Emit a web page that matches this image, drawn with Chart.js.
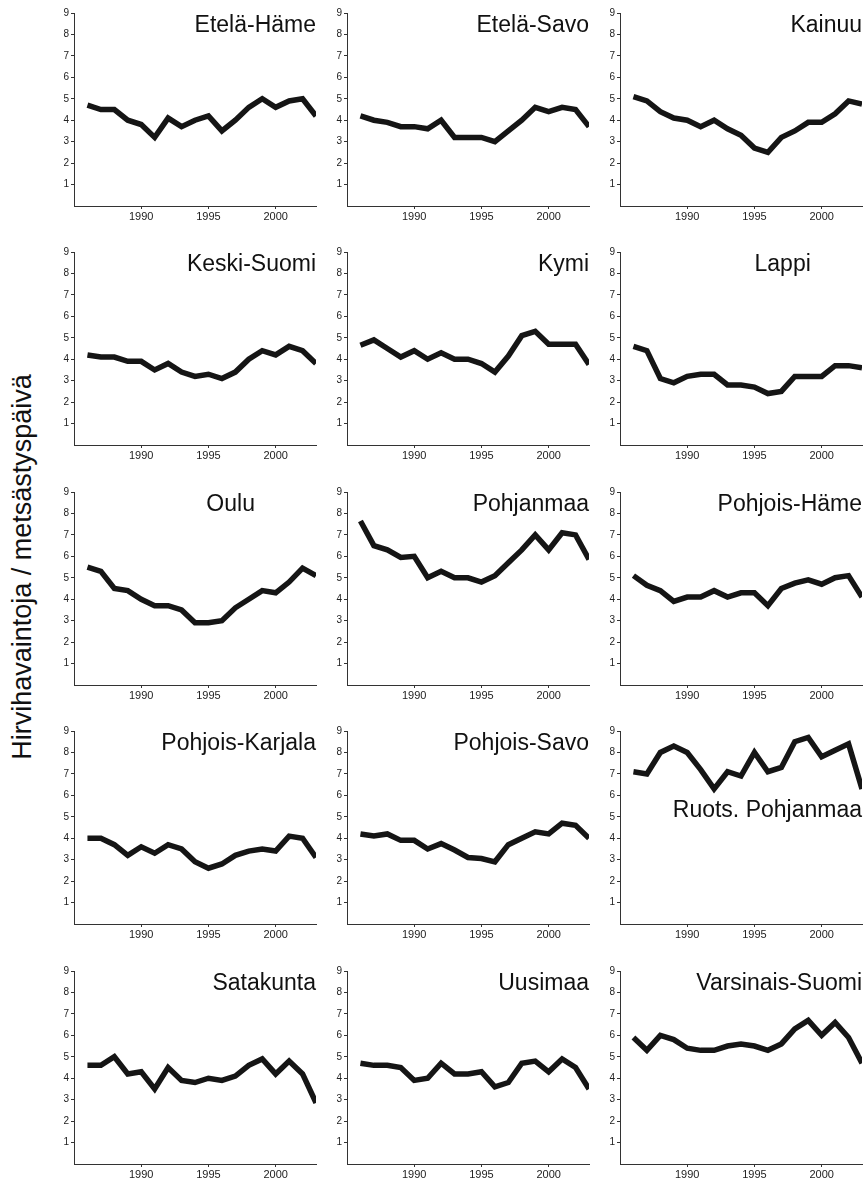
<!DOCTYPE html>
<html>
<head>
<meta charset="utf-8">
<script src="https://cdn.jsdelivr.net/npm/chart.js@4"></script>
<style>
  html, body { margin: 0; padding: 0; background: #fff; }
  #wrap { position: relative; width: 868px; height: 1180px; overflow: hidden; }
  #wrap canvas { position: absolute; }
  #ylab {
    position: absolute; left: 22px; top: 567px;
    transform: translate(-50%, -50%) rotate(-90deg);
    white-space: nowrap;
    font: 27px "Liberation Sans", Arial, sans-serif; color: #111;
  }
</style>
</head>
<body>
<div id="wrap">
  <div id="ylab">Hirvihavaintoja / metsästyspäivä</div>
</div>
<script>
(function() {
    // --- data: hirvihavainnot per metsästyspäivä, 1986-2003 ---
    const YEARS = [1986, 1987, 1988, 1989, 1990, 1991, 1992, 1993, 1994,
                   1995, 1996, 1997, 1998, 1999, 2000, 2001, 2002, 2003];
    const TICK_YEARS = [1990, 1995, 2000];
    const Y_TICKS = [1, 2, 3, 4, 5, 6, 7, 8, 9];

    const REGIONS = ['Etelä-Häme', 'Etelä-Savo', 'Kainuu',
                     'Keski-Suomi', 'Kymi', 'Lappi',
                     'Oulu', 'Pohjanmaa', 'Pohjois-Häme',
                     'Pohjois-Karjala', 'Pohjois-Savo', 'Ruots. Pohjanmaa',
                     'Satakunta', 'Uusimaa', 'Varsinais-Suomi'];

    const ETELA_HAME      = [4.7, 4.5, 4.5, 4.0, 3.8, 3.2, 4.1, 3.7, 4.0, 4.2, 3.5, 4.0, 4.6, 5.0, 4.6, 4.9, 5.0, 4.2];
    const ETELA_SAVO      = [4.2, 4.0, 3.9, 3.7, 3.7, 3.6, 4.0, 3.2, 3.2, 3.2, 3.0, 3.5, 4.0, 4.6, 4.4, 4.6, 4.5, 3.7];
    const KAINUU          = [5.1, 4.9, 4.4, 4.1, 4.0, 3.7, 4.0, 3.6, 3.3, 2.7, 2.5, 3.2, 3.5, 3.9, 3.9, 4.3, 4.9, 4.75];
    const KESKI_SUOMI     = [4.2, 4.1, 4.1, 3.9, 3.9, 3.5, 3.8, 3.4, 3.2, 3.3, 3.1, 3.4, 4.0, 4.4, 4.2, 4.6, 4.4, 3.8];
    const KYMI            = [4.65, 4.9, 4.5, 4.1, 4.4, 4.0, 4.3, 4.0, 4.0, 3.8, 3.4, 4.15, 5.1, 5.3, 4.7, 4.7, 4.7, 3.75];
    const LAPPI           = [4.6, 4.4, 3.1, 2.9, 3.2, 3.3, 3.3, 2.8, 2.8, 2.7, 2.4, 2.5, 3.2, 3.2, 3.2, 3.7, 3.7, 3.6];
    const OULU            = [5.5, 5.3, 4.5, 4.4, 4.0, 3.7, 3.7, 3.5, 2.9, 2.9, 3.0, 3.6, 4.0, 4.4, 4.3, 4.8, 5.45, 5.1];
    const POHJANMAA       = [7.65, 6.5, 6.3, 5.95, 6.0, 5.0, 5.3, 5.0, 5.0, 4.8, 5.1, 5.7, 6.3, 7.0, 6.3, 7.1, 7.0, 5.85];
    const POHJOIS_HAME    = [5.1, 4.65, 4.4, 3.9, 4.1, 4.1, 4.4, 4.1, 4.3, 4.3, 3.7, 4.5, 4.75, 4.9, 4.7, 5.0, 5.1, 4.1];
    const POHJOIS_KARJALA = [4.0, 4.0, 3.7, 3.2, 3.6, 3.3, 3.7, 3.5, 2.9, 2.6, 2.8, 3.2, 3.4, 3.5, 3.4, 4.1, 4.0, 3.1];
    const POHJOIS_SAVO    = [4.2, 4.1, 4.2, 3.9, 3.9, 3.5, 3.75, 3.45, 3.1, 3.05, 2.9, 3.7, 4.0, 4.3, 4.2, 4.7, 4.6, 4.0];
    const RUOTS_POHJANMAA = [7.1, 7.0, 8.0, 8.3, 8.0, 7.2, 6.3, 7.1, 6.9, 8.0, 7.1, 7.3, 8.5, 8.7, 7.8, 8.1, 8.4, 6.3];
    const SATAKUNTA       = [4.6, 4.6, 5.0, 4.2, 4.3, 3.5, 4.5, 3.9, 3.8, 4.0, 3.9, 4.1, 4.6, 4.9, 4.2, 4.8, 4.2, 2.85];
    const UUSIMAA         = [4.7, 4.6, 4.6, 4.5, 3.9, 4.0, 4.7, 4.2, 4.2, 4.3, 3.6, 3.8, 4.7, 4.8, 4.3, 4.9, 4.5, 3.5];
    const VARSINAIS_SUOMI = [5.9, 5.3, 6.0, 5.8, 5.4, 5.3, 5.3, 5.5, 5.6, 5.5, 5.3, 5.6, 6.3, 6.7, 6.0, 6.6, 5.9, 4.7];

    const SERIES = [ETELA_HAME, ETELA_SAVO, KAINUU, KESKI_SUOMI, KYMI, LAPPI,
                    OULU, POHJANMAA, POHJOIS_HAME, POHJOIS_KARJALA, POHJOIS_SAVO,
                    RUOTS_POHJANMAA, SATAKUNTA, UUSIMAA, VARSINAIS_SUOMI];

    // --- layout (pixels) ---
    const COL_LEFT = [74, 347, 620];
    const ROW_TOP = [13, 252, 492, 731, 971];
    const PLOT_W = 242, PLOT_H = 193;
    const AXIS_W = 34, AXIS_H = 26, PAD_T = 10, PAD_R = 6;
    const FONT = '"Liberation Sans", Arial, Helvetica, sans-serif';

    // title anchor in data units; most are right aligned at top
    const TITLE_DEFAULT = { atX: 2003, atY: 8.11, align: 'right' };
    const TITLE_OVERRIDE = {
        'Oulu': { atX: 1996.65, align: 'center' },
        'Lappi': { atX: 1997.1, align: 'center' },
        'Ruots. Pohjanmaa': { atY: 4.99 }
    };

    Chart.defaults.font.family = FONT;

    const panelTitle = {
        id: 'panelTitle',
        afterDatasetsDraw(chart, args, opts) {
            const ctx = chart.ctx;
            const x = chart.scales.x, y = chart.scales.y;
            ctx.save();
            ctx.font = '23px ' + FONT;
            ctx.fillStyle = '#111';
            ctx.textAlign = opts.align;
            ctx.textBaseline = 'alphabetic';
            ctx.fillText(opts.text, x.getPixelForValue(opts.atX), y.getPixelForValue(opts.atY));
            ctx.restore();
        }
    };

    const wrap = document.getElementById('wrap');

    REGIONS.forEach((name, i) => {
        const col = i % 3, row = Math.floor(i / 3);
        const cv = document.createElement('canvas');
        const w = AXIS_W + PLOT_W + PAD_R, h = PAD_T + PLOT_H + AXIS_H;
        cv.width = w; cv.height = h;
        cv.style.width = w + 'px'; cv.style.height = h + 'px';
        cv.style.left = (COL_LEFT[col] - AXIS_W) + 'px';
        cv.style.top = (ROW_TOP[row] - PAD_T) + 'px';
        wrap.appendChild(cv);

        const vals = SERIES[i];
        const title = Object.assign({ text: name }, TITLE_DEFAULT, TITLE_OVERRIDE[name] || {});

        new Chart(cv, {
            type: 'line',
            data: {
                datasets: [{
                    data: YEARS.map((yr, k) => ({ x: yr, y: vals[k] })),
                    borderColor: '#151515',
                    borderWidth: 5.5,
                    pointRadius: 0,
                    tension: 0,
                    fill: false,
                    clip: 0
                }]
            },
            options: {
                responsive: false,
                animation: false,
                layout: { padding: { top: PAD_T, right: PAD_R, left: 0, bottom: 0 } },
                plugins: {
                    legend: { display: false },
                    tooltip: { enabled: false },
                    panelTitle: title
                },
                scales: {
                    x: {
                        type: 'linear', min: 1985, max: 2003,
                        afterBuildTicks: s => { s.ticks = TICK_YEARS.map(v => ({ value: v })); },
                        afterFit: s => { s.height = AXIS_H; },
                        grid: { drawOnChartArea: false, tickLength: 3, color: '#333', lineWidth: 1 },
                        border: { display: true, color: '#333', width: 1 },
                        ticks: {
                            font: { size: 11 }, color: '#222', padding: 1,
                            maxRotation: 0, autoSkip: false,
                            callback: v => String(v)
                        }
                    },
                    y: {
                        min: 0, max: 9,
                        afterBuildTicks: s => { s.ticks = Y_TICKS.map(v => ({ value: v })); },
                        afterFit: s => { s.width = AXIS_W; },
                        grid: { drawOnChartArea: false, tickLength: 3, color: '#333', lineWidth: 1 },
                        border: { display: true, color: '#333', width: 1 },
                        ticks: { font: { size: 10 }, color: '#222', padding: 2 }
                    }
                }
            },
            plugins: [panelTitle]
        });
    });
})();
</script>
</body>
</html>
